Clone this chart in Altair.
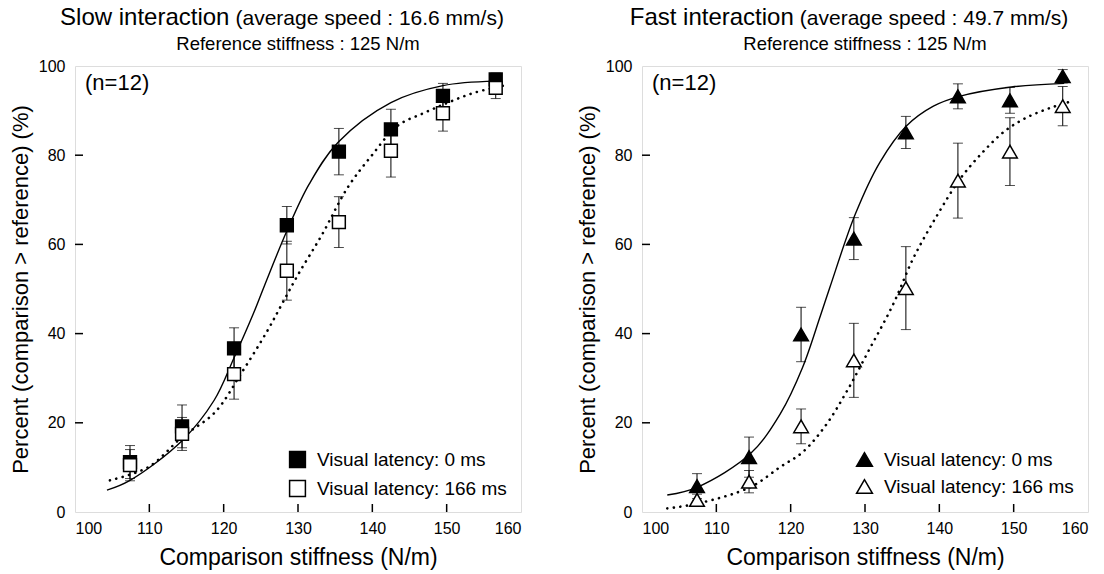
import altair as alt
import pandas as pd

FONT = "Liberation Sans"

# ---------------- data ----------------
levels = [107.4, 114.4, 121.4, 128.5, 135.5, 142.5, 149.5, 156.6]
series_names = ["Visual latency: 0 ms", "Visual latency: 166 ms"]

slow_0 = [11.2, 19.2, 36.7, 64.3, 80.8, 85.8, 93.3, 97.0]
slow_0_err = [3.7, 4.8, 4.6, 4.2, 5.2, 4.5, 2.8, 1.4]
slow_166 = [10.5, 17.5, 30.9, 54.1, 65.0, 81.0, 89.4, 95.1]
slow_166_err = [3.5, 3.7, 5.6, 6.6, 5.7, 5.9, 4.0, 2.4]

fast_0 = [5.8, 12.3, 39.8, 61.3, 85.1, 93.2, 92.3, 97.7]
fast_0_err = [2.8, 4.5, 6.1, 4.7, 3.6, 2.8, 2.9, 1.5]
fast_166 = [2.7, 6.8, 19.2, 34.0, 50.2, 74.3, 80.8, 91.0]
fast_166_err = [1.3, 2.5, 3.9, 8.3, 9.3, 8.4, 7.6, 4.4]

# fitted curves
slow_fit0_x = [104.3, 107.4, 114.4, 118.7, 121.4, 124.0, 125.5, 128.5, 131.5, 135.4, 142.5, 149.5, 156.5]
slow_fit0_y = [4.9, 7.1, 16.0, 25.0, 34.6, 44.5, 50.8, 63.0, 73.5, 82.9, 91.8, 95.6, 96.6]
slow_fit166_x = [104.7, 109.9, 114.4, 118.8, 122.4, 125.8, 127.8, 130.0, 133.2, 136.7, 139.9, 143.4, 147.0, 150.2, 153.7, 158.2]
slow_fit166_y = [7.1, 10.1, 16.8, 22.3, 31.2, 40.4, 46.5, 53.2, 62.1, 72.8, 79.9, 86.6, 89.5, 91.8, 94.0, 95.8]

fast_fit0_x = [103.4, 107.5, 114.6, 118.6, 121.6, 124.0, 125.3, 128.7, 132.0, 135.6, 139.2, 142.7, 149.7, 156.8]
fast_fit0_y = [3.8, 5.6, 13.1, 22.0, 32.4, 44.0, 50.5, 66.8, 78.4, 86.6, 91.0, 93.2, 95.3, 96.1]
fast_fit166_x = [103.4, 107.5, 114.6, 118.6, 121.6, 124.7, 127.6, 130.6, 133.8, 136.5, 139.7, 142.8, 145.8, 148.8, 151.7, 154.9, 157.8]
fast_fit166_y = [0.8, 1.9, 5.6, 10.1, 13.4, 19.4, 27.2, 36.5, 46.6, 56.9, 66.5, 74.7, 80.6, 85.4, 88.4, 90.6, 92.1]

x_ticks = [100, 110, 120, 130, 140, 150, 160]
y_ticks = [0, 20, 40, 60, 80, 100]
x_inner_ticks = [110, 120, 130, 140, 150]
y_inner_ticks = [20, 40, 60, 80]

W = 446
H = 446
F1 = 24     # "Slow interaction"
F2 = 21     # "(average speed ...)"
F3 = 18.5   # "Reference stiffness ..."


def panel(head, head_em, sub, v0, e0, v1, e1, fx0, fy0, fx1, fy1, shape):
    pts = pd.DataFrame({
        "x": levels * 2,
        "y": v0 + v1,
        "lo": [a - b for a, b in zip(v0, e0)] + [a - b for a, b in zip(v1, e1)],
        "hi": [a + b for a, b in zip(v0, e0)] + [a + b for a, b in zip(v1, e1)],
        "series": [series_names[0]] * len(levels) + [series_names[1]] * len(levels),
    })
    c0 = pd.DataFrame({"x": fx0, "y": fy0})
    c1 = pd.DataFrame({"x": fx1, "y": fy1})

    xs = alt.Scale(domain=[100, 160], nice=False, zero=False)
    ys = alt.Scale(domain=[0, 100], nice=False)
    xax = alt.Axis(values=x_ticks, title="Comparison stiffness (N/m)", grid=False,
                   domain=False, ticks=False, labelFontSize=16, labelPadding=8,
                   titleFontSize=23, titlePadding=10, titleFontWeight="normal",
                   labelFont=FONT, titleFont=FONT, labelColor="black", titleColor="black")
    yax = alt.Axis(values=y_ticks, title="Percent (comparison > reference) (%)", grid=False,
                   domain=False, ticks=False, labelFontSize=16, labelPadding=10,
                   titleFontSize=22, titlePadding=6, titleFontWeight="normal",
                   labelFont=FONT, titleFont=FONT, labelColor="black", titleColor="black")

    base = alt.Chart(pts)
    rules = base.mark_rule(color="black", strokeWidth=1).encode(
        x=alt.X("x:Q", scale=xs, axis=xax), y=alt.Y("lo:Q", scale=ys, axis=yax), y2="hi:Q")
    cap_lo = base.mark_tick(orient="horizontal", size=10, thickness=1, color="black").encode(
        x=alt.X("x:Q", scale=xs), y=alt.Y("lo:Q", scale=ys))
    cap_hi = base.mark_tick(orient="horizontal", size=10, thickness=1, color="black").encode(
        x=alt.X("x:Q", scale=xs), y=alt.Y("hi:Q", scale=ys))

    line0 = alt.Chart(c0).mark_line(color="black", strokeWidth=1.4, interpolate="catmull-rom").encode(
        x=alt.X("x:Q", scale=xs), y=alt.Y("y:Q", scale=ys))
    line1 = alt.Chart(c1).mark_line(color="black", strokeWidth=2.6, strokeDash=[0.1, 6.5],
                                    strokeCap="round", interpolate="catmull-rom").encode(
        x=alt.X("x:Q", scale=xs), y=alt.Y("y:Q", scale=ys))

    legend = alt.Legend(orient="none", legendX=213, legendY=384, title=None,
                        labelFontSize=19, labelFont=FONT, labelColor="black", labelLimit=400,
                        symbolSize=250, symbolStrokeWidth=1.5,
                        labelOffset=10, rowPadding=6, padding=0)
    dom = alt.Scale(domain=series_names, range=["black", "black"])
    points = base.mark_point(filled=True, strokeWidth=1.5, opacity=1,
                             size=(165 if shape == "square" else 215)).encode(
        x=alt.X("x:Q", scale=xs), y=alt.Y("y:Q", scale=ys),
        fill=alt.Fill("series:N", scale=alt.Scale(domain=series_names, range=["black", "white"]),
                      legend=legend),
        stroke=alt.Stroke("series:N", scale=dom, legend=legend),
        shape=alt.Shape("series:N", scale=alt.Scale(domain=series_names, range=[shape, shape]),
                        legend=legend),
    )

    ticks_df = pd.DataFrame({"t": x_inner_ticks})
    yticks_df = pd.DataFrame({"t": y_inner_ticks})
    xt = alt.Chart(ticks_df).mark_rule(color="black", strokeWidth=1.5).encode(
        x=alt.X("t:Q", scale=xs), y=alt.value(H), y2=alt.value(H - 8))
    yt = alt.Chart(yticks_df).mark_rule(color="black", strokeWidth=1.5).encode(
        y=alt.Y("t:Q", scale=ys), x=alt.value(0), x2=alt.value(8))

    one = pd.DataFrame({"k": [0]})
    w1 = head_em * F1
    w2 = 12.783 * F2
    gap = 6
    start = W / 2 - 16 - (w1 + gap + w2) / 2
    t1 = alt.Chart(one).mark_text(text=head, font=FONT, fontSize=F1, align="right",
                                  baseline="middle", color="black").encode(
        x=alt.value(start + w1), y=alt.value(-48))
    t2 = alt.Chart(one).mark_text(text=sub, font=FONT, fontSize=F2, align="left",
                                  baseline="middle", color="black").encode(
        x=alt.value(start + w1 + gap), y=alt.value(-47))
    t3 = alt.Chart(one).mark_text(text="Reference stiffness : 125 N/m", font=FONT, fontSize=F3,
                                  align="center", baseline="middle", color="black").encode(
        x=alt.value(W / 2), y=alt.value(-22))
    n = alt.Chart(one).mark_text(text="(n=12)", font=FONT, fontSize=22, align="left",
                                 baseline="middle", color="black").encode(
        x=alt.value(10), y=alt.value(17))

    return alt.layer(rules, cap_lo, cap_hi, line0, line1, points, xt, yt, t1, t2, t3, n).properties(
        width=W, height=H)


left = panel("Slow interaction", 7.058, "(average speed : 16.6 mm/s)",
             slow_0, slow_0_err, slow_166, slow_166_err,
             slow_fit0_x, slow_fit0_y, slow_fit166_x, slow_fit166_y, "square")
right = panel("Fast interaction", 6.836, "(average speed : 49.7 mm/s)",
              fast_0, fast_0_err, fast_166, fast_166_err,
              fast_fit0_x, fast_fit0_y, fast_fit166_x, fast_fit166_y, "triangle-up")

chart = alt.hconcat(left, right, spacing=53).resolve_scale(
    fill="independent", shape="independent", stroke="independent").resolve_legend(
    fill="independent", shape="independent", stroke="independent").configure_view(
    stroke="black", strokeWidth=2).configure(
    padding={"left": 8, "top": 5, "right": 5, "bottom": 5}, background="white")

chart.save("out.html", embed_options={"renderer": "svg", "actions": False})
